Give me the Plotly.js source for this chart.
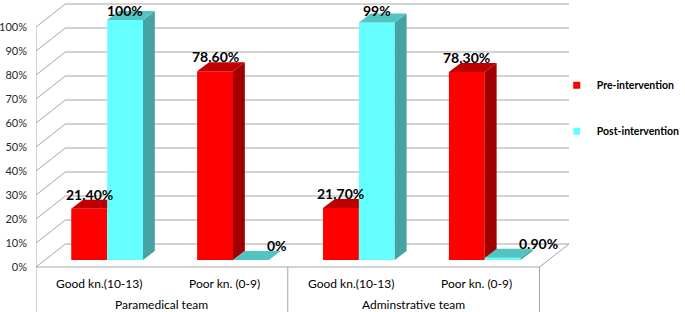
<!DOCTYPE html>
<html>
<head>
<meta charset="utf-8">
<script src="https://cdn.plot.ly/plotly-3.0.1.min.js"></script>
<style>html,body{margin:0;padding:0;background:#fff;}#chart{width:685px;height:312px;}</style>
</head>
<body>
<div id="chart"></div>
<script>
// ---- data ----
const categories = ['Good kn.(10-13)', 'Poor kn. (0-9)', 'Good kn.(10-13)', 'Poor kn. (0-9)'];
const groups = ['Paramedical team', 'Adminstrative team'];
const seriesNames = ['Pre-intervention', 'Post-intervention'];
const preValues = [21.4, 78.6, 21.7, 78.3];
const postValues = [100, 0, 99, 0.9];
const preLabels = ['21.40%', '78.60%', '21.70%', '78.30%'];
const postLabels = ['100%', '0%', '99%', '0.90%'];
const yTickVals = [0, 10, 20, 30, 40, 50, 60, 70, 80, 90, 100];
const yTickText = ['0%', '10%', '20%', '30%', '40%', '50%', '60%', '70%', '80%', '90%', '100%'];

// ---- geometry / style constants ----
const W = 0.285, MID = 0.065, BASE = 2.92;
const TDX = 0.094, TDY = 3.75;      // bar depth
const BDX = 0.234, BDY = 9.58;      // wall depth
const XMIN = -0.5, XMAX = 3.5, YMIN = -18.75, YMAX = 111.25;
const FONT = 'Lato, "Noto Sans", sans-serif';
const GRID = '#a6a6a6';
const C = {
  redFront: '#ff0000', redSide: '#a00000', redTop: '#c00000',
  cyanFront: '#66ffff', cyanSide: '#45a3a3', cyanTop: '#52c4c4'
};

const idx = categories.map((_, i) => i);
const traces = [];

// front faces as bars
traces.push({
  type: 'bar', x: idx, y: preValues, base: BASE, width: W, offset: MID - W,
  marker: {color: C.redFront, line: {width: 0}}, showlegend: false, hoverinfo: 'skip', name: seriesNames[0]
});
traces.push({
  type: 'bar', x: idx, y: postValues, base: BASE, width: W, offset: MID,
  marker: {color: C.cyanFront, line: {width: 0}}, showlegend: false, hoverinfo: 'skip', name: seriesNames[1]
});

function poly(pts, color) {
  traces.push({
    type: 'scatter', mode: 'lines', fill: 'toself', fillcolor: color,
    x: pts.map(p => p[0]).concat([pts[0][0]]), y: pts.map(p => p[1]).concat([pts[0][1]]),
    line: {width: 0, color: color}, hoverinfo: 'skip', showlegend: false
  });
}

idx.forEach(i => {
  const xL = i + MID - W, xR = i + MID;
  const v = BASE + preValues[i];
  const cv = BASE + postValues[i];
  if (preValues[i] > postValues[i]) {
    poly([[xR, cv], [xR, v], [xR + TDX, v + TDY], [xR + TDX, Math.max(BASE + TDY, cv)]], C.redSide);
    poly([[xL, v], [xR, v], [xR + TDX, v + TDY], [xL + TDX, v + TDY]], C.redTop);
  } else {
    poly([[xL, v], [xR, v], [xR, v + TDY], [xL + TDX, v + TDY]], C.redTop);
  }
});
idx.forEach(i => {
  const cL = i + MID, cR = i + MID + W;
  const cv = BASE + postValues[i];
  poly([[cR, BASE], [cR, cv], [cR + TDX, cv + TDY], [cR + TDX, BASE + TDY]], C.cyanSide);
  poly([[cL, cv], [cR, cv], [cR + TDX, cv + TDY], [cL + TDX, cv + TDY]], C.cyanTop);
});

// legend entries
traces.push({type: 'scatter', mode: 'markers', x: [null], y: [null], name: seriesNames[0], legendgroup: 'a',
  marker: {symbol: 'square', size: 7, color: C.redFront}});
traces.push({type: 'scatter', mode: 'markers', x: [null], y: [null], name: seriesNames[1], legendgroup: 'b',
  marker: {symbol: 'square', size: 7, color: C.cyanFront}});

// walls & category box
const shapes = [];
function line(x0, y0, x1, y1) {
  shapes.push({type: 'line', xref: 'x', yref: 'y', x0, y0, x1, y1, layer: 'below', line: {color: GRID, width: 1}});
}
yTickVals.forEach(v => {
  line(XMIN + BDX, v + BDY, XMAX + BDX, v + BDY);
  line(XMIN, v, XMIN + BDX, v + BDY);
});
line(XMAX, 0, XMAX + BDX, BDY);
line(XMIN, 0, XMAX, 0);
line(XMIN, YMIN, XMIN, 100);
line((XMIN + XMAX) / 2, YMIN, (XMIN + XMAX) / 2, 0);
line(XMAX, YMIN, XMAX, 0);

// annotations
const annotations = [];
idx.forEach(i => {
  annotations.push({x: i, y: -6.9, xref: 'x', yref: 'y', text: categories[i], showarrow: false,
    font: {family: FONT, size: 12, color: '#000'}});
});
groups.forEach((g, k) => {
  annotations.push({x: XMIN + 1 + 2 * k, y: -15.6, xref: 'x', yref: 'y', text: g, showarrow: false,
    font: {family: FONT, size: 12, color: '#000'}});
});
const LBLFONT = {family: FONT, size: 14, color: '#000', weight: 'bold'};
function valueLabel(x, top, text, xanchor, xshift) {
  const nearTop = top > 104;
  annotations.push({x, y: nearTop ? YMAX : top, xref: 'x', yref: 'y', text, showarrow: false,
    xanchor, xshift, yanchor: nearTop ? 'top' : 'bottom', yshift: nearTop ? 0 : -5, font: LBLFONT});
}
idx.forEach(i => {
  valueLabel(i + MID - W / 2, BASE + preValues[i] + TDY, preLabels[i], 'center', 0);
  const small = postValues[i] < 5;
  valueLabel(small ? i + MID + W : i + MID + W / 2, BASE + postValues[i] + TDY, postLabels[i],
    small ? 'left' : 'center', small ? -4 : 0);
});

const layout = {
  width: 685, height: 312, autosize: false,
  margin: {l: 36, r: 106, t: 0, b: 0, pad: 0},
  paper_bgcolor: '#fff', plot_bgcolor: 'rgba(0,0,0,0)',
  barmode: 'overlay',
  xaxis: {range: [XMIN, XMAX + BDX], showgrid: false, zeroline: false, showline: false,
    showticklabels: false, ticks: '', fixedrange: true},
  yaxis: {range: [YMIN, YMAX], tickvals: yTickVals, ticktext: yTickText, showgrid: false, zeroline: false,
    showline: false, ticks: '', ticklabelstandoff: 8, tickfont: {family: FONT, size: 11, color: '#262626'}, fixedrange: true},
  showlegend: true,
  legend: {x: 0.977, xanchor: 'left', y: 0.773, yanchor: 'top', bgcolor: 'rgba(0,0,0,0)',
    tracegroupgap: 27, font: {family: FONT, size: 10.5, color: '#000', weight: 'bold'}},
  shapes, annotations
};

Plotly.newPlot('chart', traces, layout, {staticPlot: true, displayModeBar: false});
</script>
</body>
</html>
